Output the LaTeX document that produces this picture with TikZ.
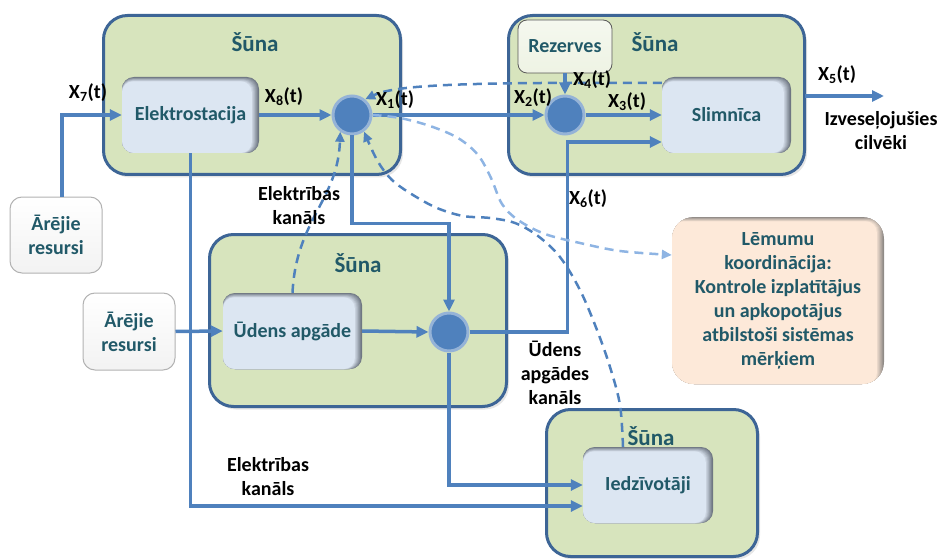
\documentclass[tikz,border=0pt]{standalone}
\usepackage{fontspec}
\setmainfont{Carlito}
\usetikzlibrary{arrows.meta,calc,shadows}

\definecolor{cellfill}{HTML}{D7E4BD}
\definecolor{cellline}{HTML}{3D6596}
\definecolor{unitfill}{HTML}{DCE6F2}
\definecolor{unitshade}{HTML}{6E7681}
\definecolor{flowblue}{HTML}{4F81BD}
\definecolor{flowlight}{HTML}{8EB4E3}
\definecolor{ringblue}{HTML}{95B3D7}
\definecolor{titletext}{HTML}{215968}
\definecolor{peach}{HTML}{FDE9D9}
\definecolor{peachshade}{HTML}{8F8A86}
\definecolor{reservefill}{HTML}{EEF3E4}

\newcommand{\dgfont}{\fontsize{20}{24}\selectfont\bfseries}
\newcommand{\dgtitle}{\fontsize{23}{26}\selectfont\bfseries}

\tikzset{
  innershade/.style 2 args={
    fill=#2,
    path picture={
      \foreach \k in {1,...,8}{
        \pgfmathtruncatemacro{\p}{\k*100/8}
        \fill[#1!\p!#2, rounded corners=11pt]
          (path picture bounding box.south west) rectangle
          ([xshift={-0.9pt*\k}, yshift={-0.55pt*\k}]path picture bounding box.north east);
      }
    }
  },
  cell/.style={draw=cellline, line width=3pt, fill=cellfill, rounded corners=24pt,
    inner sep=0pt, outer sep=0pt,
    drop shadow={opacity=0.2, shadow xshift=2.5pt, shadow yshift=-3pt}},
  celltitle/.style={font=\dgtitle, text=titletext, inner sep=0pt},
  unit/.style={innershade={unitfill}{unitshade}, rounded corners=12pt, inner sep=0pt,
    text=titletext, font=\dgfont, align=center},
  source/.style={rounded corners=12pt, draw=gray!60, line width=1pt,
    top color=white, bottom color=gray!10, inner sep=0pt,
    text=titletext, font=\dgfont, align=center},
  reserve/.style={rounded corners=9pt, draw=black!65, line width=0.8pt,
    top color=reservefill!60!white, bottom color=reservefill, inner sep=0pt,
    text=titletext, font=\dgfont},
  decision/.style={innershade={peach}{peachshade}, rounded corners=22pt, inner sep=0pt,
    text=titletext, font=\dgfont, align=center},
  junction/.style={circle, fill=flowblue, draw=ringblue, line width=3pt,
    minimum size=38pt, inner sep=0pt},
  link/.style={draw=flowblue, line width=3.5pt, -{Triangle[length=12pt,width=11pt]}},
  cue/.style={draw=flowblue, line width=2.5pt, dash pattern=on 9pt off 6pt,
    -{Triangle[length=10pt,width=9pt]}},
  cuelight/.style={cue, draw=flowlight},
  lbl/.style={font=\dgfont, text=black, align=center, inner sep=0pt}
}

\begin{document}
\begin{tikzpicture}[x=1pt, y=-1pt]
\useasboundingbox (0,0) rectangle (940,559);

% cells
\node[cell, minimum width=297pt, minimum height=159pt] (cellA) at (252,95) {};
\node[cell, minimum width=296pt, minimum height=159pt] (cellB) at (656.5,95) {};
\node[cell, minimum width=297pt, minimum height=172pt] (cellC) at (358,320.5) {};
\node[cell, minimum width=211pt, minimum height=147pt] (cellD) at (652,483) {};

\node[celltitle] (tA) at (255,42) {Šūna};
\node[celltitle] (tB) at (655,42) {Šūna};
\node[celltitle] (tC) at (358,263) {Šūna};
\node[celltitle] (tD) at (651,436) {Šūna};

% units inside the cells
\node[unit, minimum width=137pt, minimum height=76pt] (elek) at (190.5,115) {Elektrostacija};
\node[unit, minimum width=129pt, minimum height=76pt] (slim) at (726.5,115) {Slimnīca};
\node[unit, minimum width=139pt, minimum height=76pt] (uden) at (292.5,331) {Ūdens apgāde};
\node[unit, minimum width=130pt, minimum height=76pt] (iedz) at (648,485) {Iedzīvotāji};

\node[source, minimum width=92pt, minimum height=76pt] (ext1) at (56,235) {Ārējie\\resursi};
\node[source, minimum width=92pt, minimum height=77pt] (ext2) at (129,331.5) {Ārējie\\resursi};
\node[reserve, minimum width=94pt, minimum height=53pt] (rez) at (565,46.5) {Rezerves};

\node[decision, minimum width=212pt, minimum height=167pt] (lem) at (778,300.5)
  {Lēmumu\\koordinācija:\\Kontrole izplatītājus\\un apkopotājus\\atbilstoši sistēmas\\mērķiem};

% junctions
\node[junction] (c1) at (352,115) {};
\node[junction] (c2) at (565,115) {};
\node[junction] (c3) at (449,332) {};

% flows
\draw[link] ([xshift=6pt]ext1.north) |- (elek.west);
\draw[link] (elek.east) -- (c1.west);
\draw[link] (c1.east) -- (c2.west);
\draw[link] (rez.south) -- (c2.north);
\draw[link] (c2.east) -- (slim.west);
\draw[link] (c3.east) -- ++(98,0) |- ([yshift=-27pt]slim.west);
\draw[link] (c1.south) -- ++(0,88) -| (c3.north);
\draw[link] (c3.south) |- (iedz.west);
\draw[link] (elek.south) |- ([yshift=-21pt]iedz.west);
\draw[link] (ext2.east) -- (uden.west);
\draw[link] (uden.east) -- (c3.west);
\coordinate (exit) at (884,96);
\draw[link] (cellB.east |- exit) -- (exit);

% feedback signals
\coordinate (fbstart) at ([xshift=-25pt]iedz.north);
\coordinate (lemin) at ([yshift=45.5pt]lem.west);
\coordinate (slimtop) at ([yshift=32pt]slim.west);
\draw[cue] (uden.north) .. controls (296,220) and (338,200) .. (c1.235);
\draw[cue] (slimtop) .. controls (460,82) and (395,85) .. (c1.50);
\draw[cue] plot[smooth, tension=0.55] coordinates {(fbstart) (620,405) (610,367) (597,330)
  (580,290) (560,257) (538,236) (515,223) (490,218) (463,216) (437,208) (413,195)
  (392,180) (377,160) (c1.-54)};
\draw[cuelight] plot[smooth, tension=0.55] coordinates {(c1.east) (400,118) (430,126)
  (458,138) (478,155) (491,178) (502,204) (518,220) (545,234) (580,243) (620,251) (lemin)};

% labels
\node[lbl] (x7) at (88,93) {X\textsubscript{7}(t)};
\node[lbl] (x8) at (284,97) {X\textsubscript{8}(t)};
\node[lbl] (x1) at (395,100) {X\textsubscript{1}(t)};
\node[lbl] (x2) at (533,98) {X\textsubscript{2}(t)};
\node[lbl] (x4) at (592,80) {X\textsubscript{4}(t)};
\node[lbl] (x3) at (627,102) {X\textsubscript{3}(t)};
\node[lbl] (x5) at (837,75) {X\textsubscript{5}(t)};
\node[lbl] (x6) at (588,199) {X\textsubscript{6}(t)};
\node[lbl] (recov) at (881,131) {Izveseļojušies\\cilvēki};
\node[lbl] (elch1) at (299,206) {Elektrības\\kanāls};
\node[lbl] (elch2) at (268,477) {Elektrības\\kanāls};
\node[lbl] (wach) at (555,373) {Ūdens\\apgādes\\kanāls};
\end{tikzpicture}
\end{document}
